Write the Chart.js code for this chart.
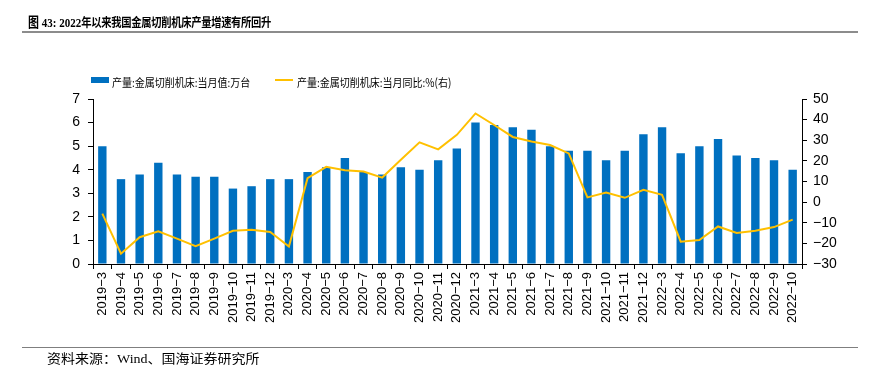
<!DOCTYPE html>
<html>
<head>
<meta charset="utf-8">
<script src="https://cdn.jsdelivr.net/npm/chart.js@4/dist/chart.umd.min.js"></script>
<style>
  body { margin: 0; background: #fff; }
  #wrap { position: relative; width: 880px; height: 376px; overflow: hidden; }
  #wrap canvas { position: absolute; left: 0; top: 0; }
  .title { position: absolute; left: 28px; top: 11px; font: bold 11px "Liberation Serif", "Noto Sans CJK SC", serif; color: #000; transform: scaleY(1.2); transform-origin: left top; white-space: nowrap; }
  .title .cn { font-size: 10.3px; letter-spacing: -0.3px; }
  .rule-top { position: absolute; left: 22px; top: 31px; width: 836px; height: 2px; background: #8c8c8c; }
  .rule-bot { position: absolute; left: 22px; top: 347px; width: 836px; height: 1px; background: #7f7f7f; }
  .source { position: absolute; left: 47px; top: 349px; font: 14px "Liberation Serif", "Noto Sans CJK SC", serif; color: #000; transform: scaleY(0.9); transform-origin: left top; white-space: nowrap; }
  .leg { position: absolute; top: 73px; font: 10px "Noto Sans CJK SC", sans-serif; color: #000; transform: scaleY(1.15); transform-origin: left top; white-space: nowrap; }
  .swatch { position: absolute; }
</style>
</head>
<body>
<div id="wrap">
  <canvas id="CHARTJICHUANG" width="880" height="376"></canvas>
  <div class="title">图 43:&nbsp;2022<span class="cn">年以来我国金属切削机床产量增速有所回升</span></div>
  <div class="rule-top"></div>
  <div class="swatch" style="left:91px;top:77px;width:18px;height:6px;background:#0070C0"></div>
  <div class="leg" style="left:112px">产量:金属切削机床:当月值:万台</div>
  <div class="swatch" style="left:275px;top:79px;width:18px;height:2px;background:#FFC000"></div>
  <div class="leg" style="left:297px">产量:金属切削机床:当月同比:%(右)</div>
  <div class="rule-bot"></div>
  <div class="source">资料来源：Wind、国海证券研究所</div>
</div>
<script>
const meses = ['2019-3', '2019-4', '2019-5', '2019-6', '2019-7', '2019-8', '2019-9', '2019-10', '2019-11', '2019-12',
  '2020-3', '2020-4', '2020-5', '2020-6', '2020-7', '2020-8', '2020-9', '2020-10', '2020-11', '2020-12',
  '2021-3', '2021-4', '2021-5', '2021-6', '2021-7', '2021-8', '2021-9', '2021-10', '2021-11', '2021-12',
  '2022-3', '2022-4', '2022-5', '2022-6', '2022-7', '2022-8', '2022-9', '2022-10'];

// 当月值: 万台
const produccion = [5.0, 3.6, 3.8, 4.3, 3.8, 3.7, 3.7, 3.2, 3.3, 3.6,
  3.6, 3.9, 4.1, 4.5, 3.9, 3.8, 4.1, 4.0, 4.4, 4.9,
  6.0, 5.9, 5.8, 5.7, 5.0, 4.8, 4.8, 4.4, 4.8, 5.5,
  5.8, 4.7, 5.0, 5.3, 4.6, 4.5, 4.4, 4.0];

// 当月同比: %
const yoy = [-5.6, -25.0, -17.0, -14.2, -17.7, -21.3, -17.7, -13.9, -13.4, -14.5,
  -21.5, 11.6, 17.1, 15.5, 14.8, 11.9, 20.5, 29.0, 25.6, 32.6,
  43.0, 37.4, 31.6, 29.4, 27.7, 23.6, 2.3, 4.7, 2.1, 6.0,
  3.5, -19.2, -18.4, -11.8, -15.0, -13.9, -12.1, -8.5];

const ticksIzq = [0, 1, 2, 3, 4, 5, 6, 7];
const ticksDer = [-30, -20, -10, 0, 10, 20, 30, 40, 50];

const ctx = document.getElementById('CHARTJICHUANG');

const fuente = { family: '"Liberation Sans", Arial, sans-serif', size: 14 };

new Chart(ctx, {
  data: {
    labels: meses,
    datasets: [{
      type: 'line',
      label: '产量:金属切削机床:当月同比:%(右)',
      data: yoy,
      yAxisID: 'y2',
      borderColor: '#FFC000',
      borderWidth: 2,
      pointRadius: 0,
      tension: 0
    }, {
      type: 'bar',
      label: '产量:金属切削机床:当月值:万台',
      data: produccion,
      yAxisID: 'y',
      backgroundColor: '#0070C0',
      categoryPercentage: 1,
      barPercentage: 0.45
    }]
  },
  options: {
    responsive: false,
    animation: false,
    devicePixelRatio: 1,
    layout: { padding: { left: 41, right: 38, top: 99, bottom: 38 } },
    plugins: { legend: { display: false }, tooltip: { enabled: false } },
    scales: {
      x: {
        offset: true,
        grid: { drawOnChartArea: false, color: '#000', tickLength: 5 },
        border: { color: '#000' },
        ticks: {
          autoSkip: false,
          maxRotation: 90,
          minRotation: 90,
          padding: 3,
          color: '#000',
          font: { family: fuente.family, size: 13 },
          callback: function (v) { return this.getLabelForValue(v).replace('-', '\u2212'); }
        },
        afterFit: s => { s.height = 74; }
      },
      y: {
        position: 'left',
        min: 0,
        max: 7,
        afterBuildTicks: s => { s.ticks = ticksIzq.map(v => ({ value: v })); },
        grid: { drawOnChartArea: false, color: '#000', tickLength: 5 },
        border: { color: '#000' },
        ticks: { color: '#000', font: fuente, padding: 8 },
        afterFit: s => { s.width = 52; }
      },
      y2: {
        position: 'right',
        min: -30,
        max: 50,
        afterBuildTicks: s => { s.ticks = ticksDer.map(v => ({ value: v })); },
        grid: { drawOnChartArea: false, color: '#000', tickLength: 5 },
        border: { color: '#000' },
        ticks: { color: '#000', font: fuente, padding: 6, callback: v => String(v).replace('-', '\u2212') },
        afterFit: s => { s.width = 40; }
      }
    }
  }
});
</script>
</body>
</html>
